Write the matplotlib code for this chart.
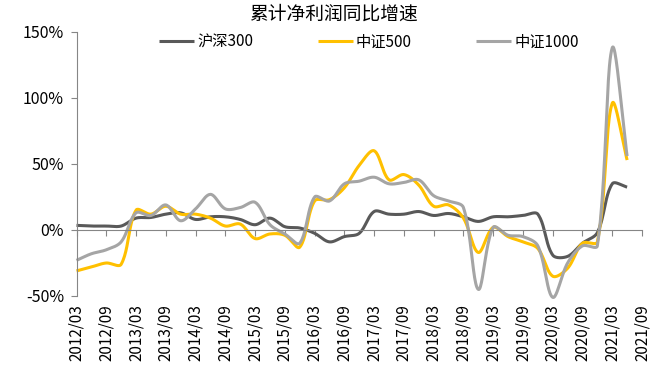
import numpy as np
import matplotlib
matplotlib.use('Agg')
import matplotlib.pyplot as plt

plt.rcParams['font.family'] = ['Noto Sans CJK SC', 'DejaVu Sans']

# 季度: 2012/03 ... 2021/09
quarters = [f'{y}/{m:02d}' for y in range(2012, 2022) for m in (3, 6, 9, 12)][:39]

names = ['沪深300', '中证500', '中证1000']
colors = ['#595959', '#FFC000', '#A5A5A5']

hs300 = [3.5, 3, 3, 3, 9, 9.5, 12, 13, 8, 10, 10, 8, 4, 9, 2.5, 1.5, -2.5, -9, -5, -2.5,
         14, 12, 12, 14, 11, 12.5, 10, 6.5, 10, 10, 11, 12, -19, -20, -10, -2, 35, 32.5]
zz500 = [-31, -28, -25, -26, 15, 12, 18, 12, 12, 9, 3, 4.5, -6.5, -3, -4, -13, 22, 23, 32, 49,
         60, 38, 42, 34, 18, 19, 9, -17, 2, -5, -9, -14, -35, -29, -10, -9, 96, 53]
zz1000 = [-23, -18, -15, -9, 13, 11, 19, 7, 16, 27, 16, 17, 21, 4, -3, -10, 25, 22, 35, 37,
          40, 35, 36, 38, 26, 22, 17, -45, 2, -4, -5, -12, -51, -25, -12, -12, 138, 56]

SX, SY = 14.88, 1.32  # 像素/单位, 用于平滑计算


def smooth(vals, n=24):
    # Excel 风格平滑线: 贝塞尔, 切线按弦长比例缩放
    p = np.column_stack([np.arange(len(vals)) * SX, np.asarray(vals, float) * SY])
    m = len(p)
    L = np.linalg.norm(np.diff(p, axis=0), axis=1)
    t = np.linspace(0, 1, n)
    out = []
    for i in range(m - 1):
        p1, p2 = p[i], p[i + 1]
        if i > 0:
            c1 = p1 + (p2 - p[i - 1]) * L[i] / (L[i - 1] + L[i]) / 3
        else:
            c1 = p1 + (p2 - p1) / 3
        if i + 2 < m:
            c2 = p2 - (p[i + 2] - p1) * L[i] / (L[i] + L[i + 1]) / 3
        else:
            c2 = p2 - (p2 - p1) / 3
        b = ((1 - t) ** 3)[:, None] * p1 + (3 * (1 - t) ** 2 * t)[:, None] * c1 \
            + (3 * (1 - t) * t ** 2)[:, None] * c2 + (t ** 3)[:, None] * p2
        out.append(b)
    b = np.vstack(out)
    return b[:, 0] / SX, b[:, 1] / SY


fig = plt.figure(figsize=(6.7, 3.77), dpi=100)
ax = fig.add_axes([76.5 / 670, 1 - 296 / 377, (642 - 76.5) / 670, (296 - 32) / 377])

for name, vals, c in zip(names, [hs300, zz500, zz1000], colors):
    xs, ys = smooth(vals)
    ax.plot(xs, ys, color=c, lw=2.2, label=name, clip_on=False, solid_capstyle='butt')

ax.set_xlim(0, 38)
ax.set_ylim(-50, 150)
ax.set_yticks([-50, 0, 50, 100, 150])
ax.yaxis.set_major_formatter(lambda v, p: f'{v:.0f}%')

axc = '#868686'
ax.spines['top'].set_visible(False)
ax.spines['right'].set_visible(False)
ax.spines['left'].set_color(axc)
ax.spines['bottom'].set_color(axc)
ax.spines['bottom'].set_position(('data', 0))
ax.set_xticks(range(0, 39, 2))
ax.tick_params(axis='x', length=4, color=axc, labelbottom=False)
ax.tick_params(axis='y', length=4, color=axc, labelsize=11.5, pad=5)

sec = ax.secondary_xaxis('bottom')
sec.set_xticks(range(0, 39, 2), labels=quarters[::2])
sec.tick_params(length=0, rotation=90, labelsize=11, pad=6)
sec.spines['bottom'].set_visible(False)

fig.text(0.497, 1 - 14 / 377, '累计净利润同比增速', ha='center', va='center', fontsize=13.5)

h, l = ax.get_legend_handles_labels()
fig.legend(h, l, ncol=3, loc='center', bbox_to_anchor=(369 / 670, 1 - 42 / 377),
           frameon=False, fontsize=11, handlelength=2.3, handletextpad=0.2,
           columnspacing=4.2)

fig.savefig('out.png', dpi=100)
